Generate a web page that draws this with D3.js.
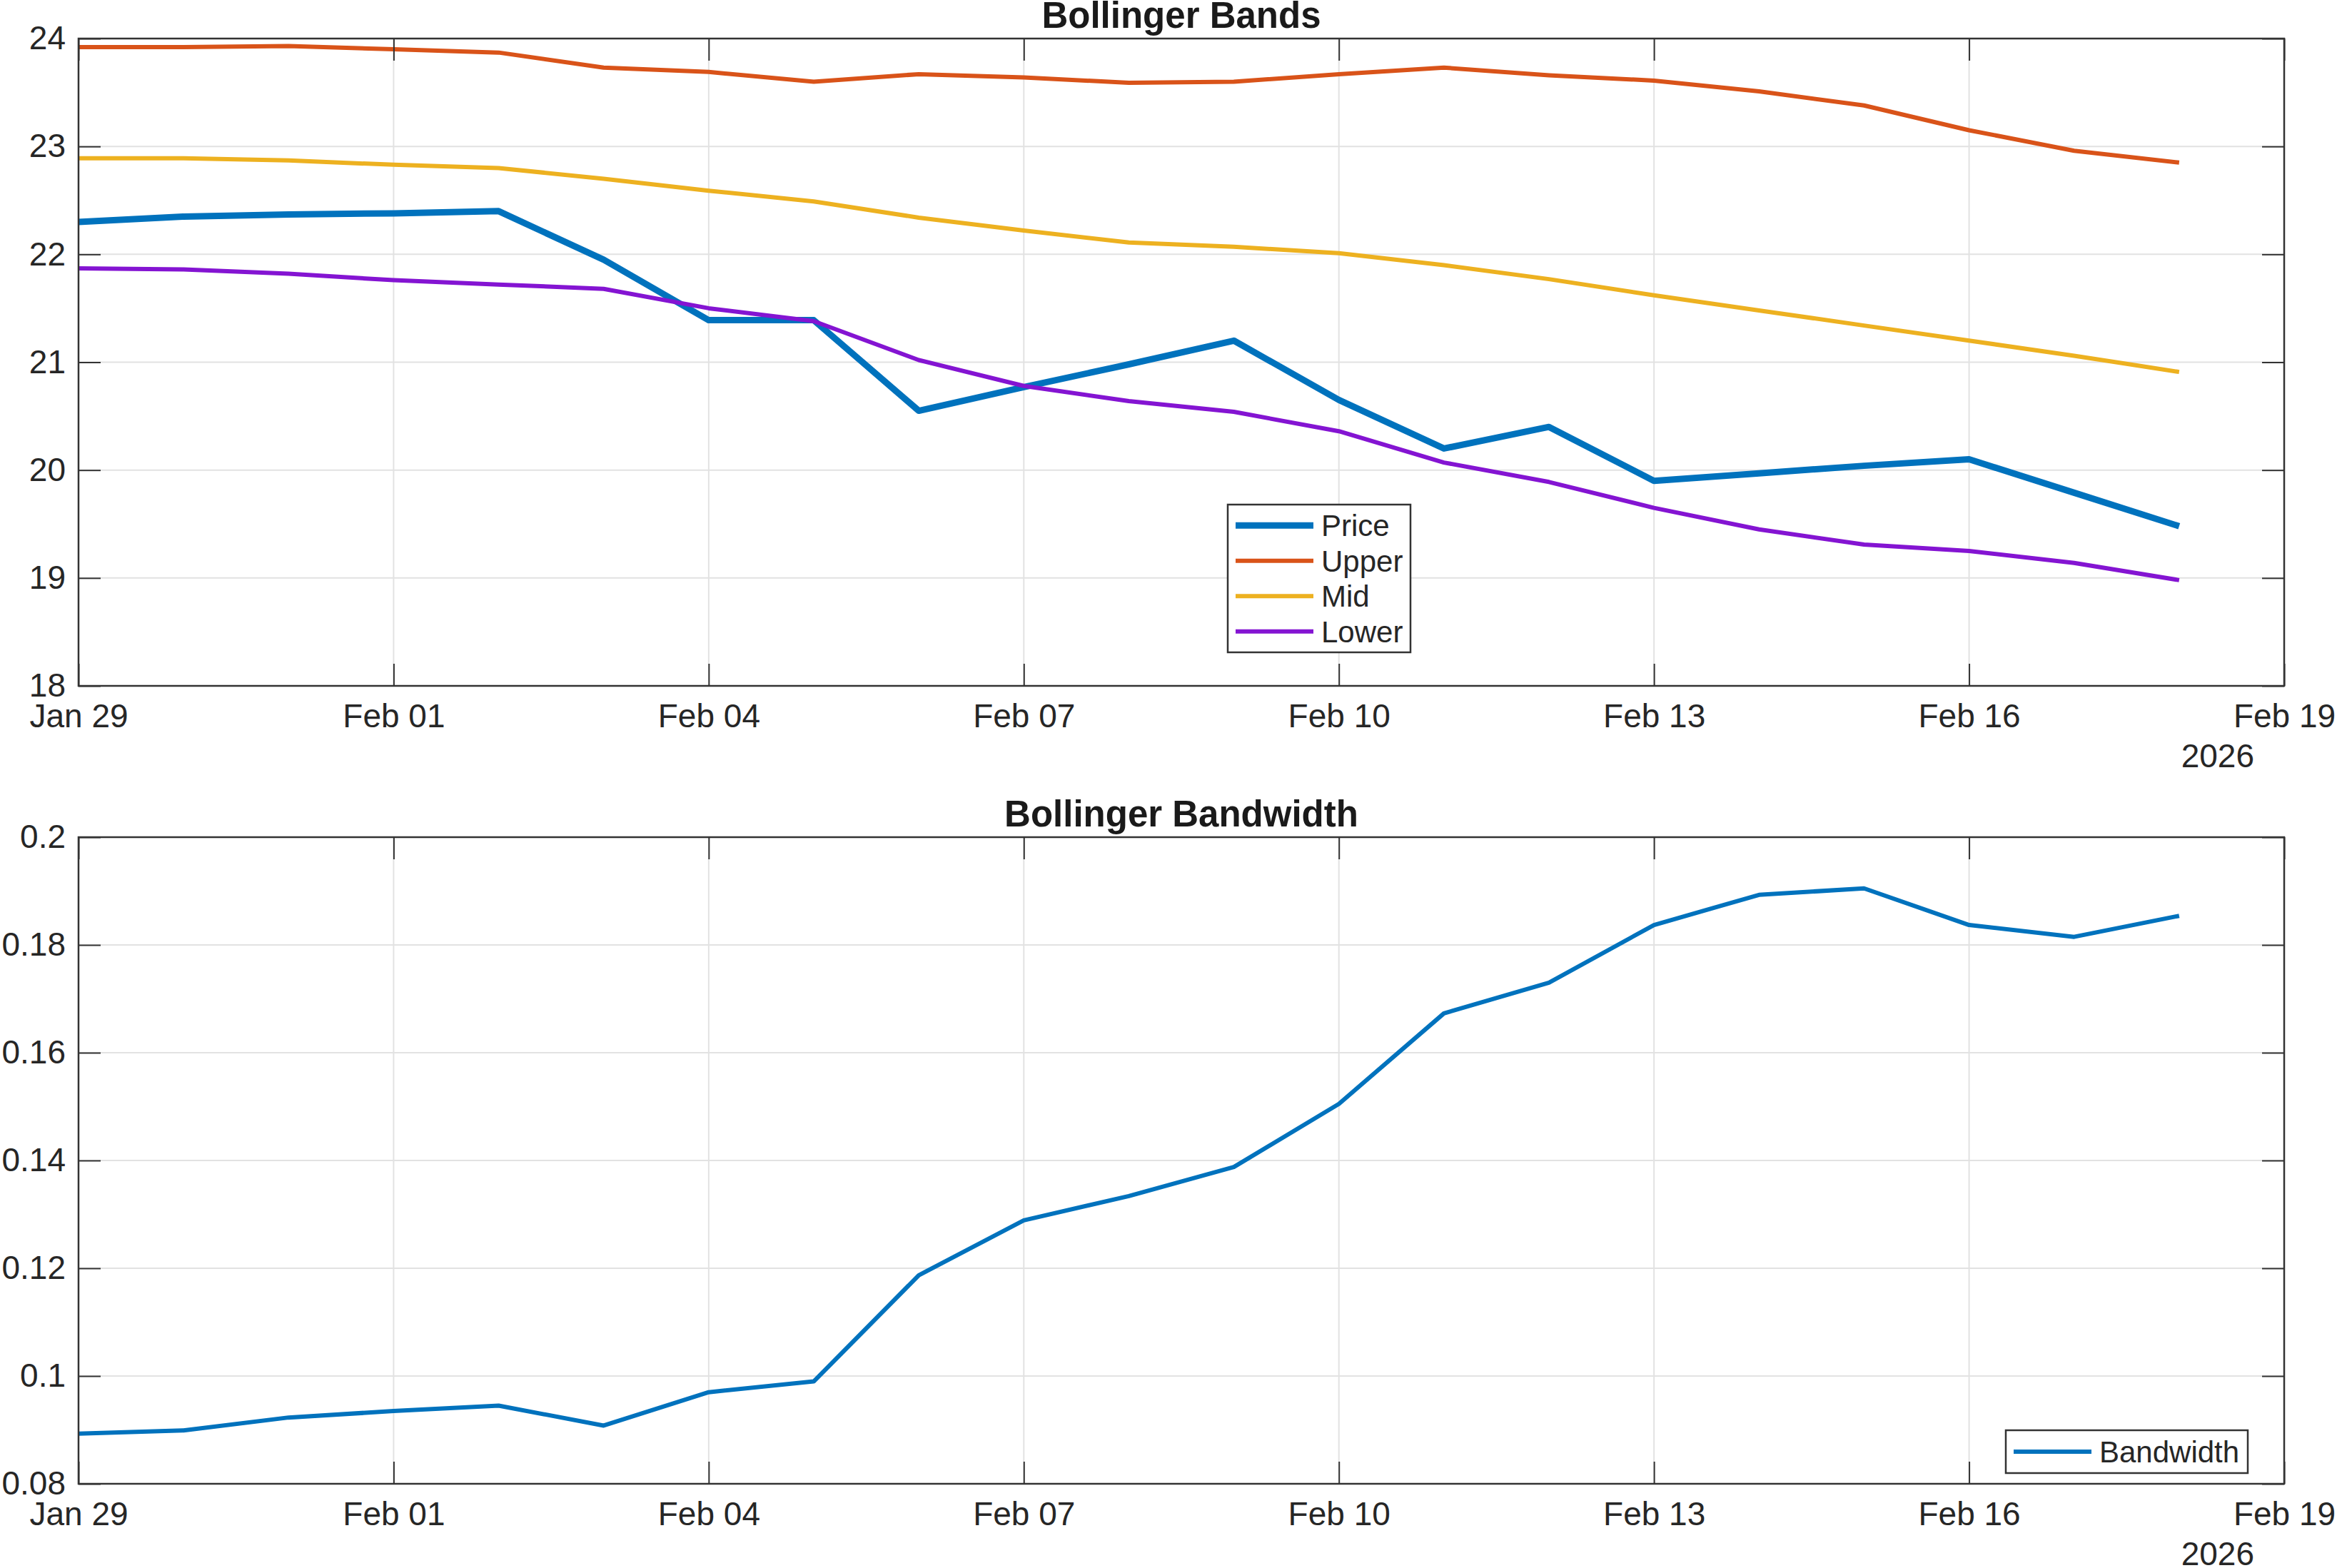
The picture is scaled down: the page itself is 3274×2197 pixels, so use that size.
<!DOCTYPE html>
<html>
<head>
<meta charset="utf-8">
<script src="https://cdn.jsdelivr.net/npm/d3@7"></script>
<style>
  html, body { margin: 0; padding: 0; background: #fff; }
  svg { display: block; }
</style>
</head>
<body>
<div id="chart"></div>
<script>
// daily dates, Jan 29 .. Feb 18 2026
const dates = [
    '2026-01-29', '2026-01-30', '2026-01-31', '2026-02-01', '2026-02-02', '2026-02-03',
    '2026-02-04', '2026-02-05', '2026-02-06', '2026-02-07', '2026-02-08', '2026-02-09',
    '2026-02-10', '2026-02-11', '2026-02-12', '2026-02-13', '2026-02-14', '2026-02-15',
    '2026-02-16', '2026-02-17', '2026-02-18'
];

const price = [22.30, 22.35, 22.37, 22.38, 22.40, 21.95, 21.39, 21.39, 20.55, 20.77, 20.98,
               21.20, 20.65, 20.20, 20.40, 19.90, 19.97, 20.04, 20.10, 19.79, 19.48];
const upper = [23.92, 23.92, 23.93, 23.90, 23.87, 23.73, 23.69, 23.60, 23.67, 23.64, 23.59,
               23.60, 23.67, 23.73, 23.66, 23.61, 23.51, 23.38, 23.15, 22.96, 22.85];
const mid   = [22.89, 22.89, 22.87, 22.83, 22.80, 22.70, 22.59, 22.49, 22.34, 22.22, 22.11,
               22.07, 22.01, 21.90, 21.77, 21.62, 21.48, 21.34, 21.20, 21.06, 20.91];
const lower = [21.87, 21.86, 21.82, 21.76, 21.72, 21.68, 21.50, 21.38, 21.02, 20.78, 20.64,
               20.54, 20.36, 20.07, 19.89, 19.65, 19.45, 19.31, 19.25, 19.14, 18.98];
const bandwidth = [0.0893, 0.0899, 0.0923, 0.0935, 0.0945, 0.0908, 0.0970, 0.0990, 0.1187,
                   0.1289, 0.1334, 0.1388, 0.1505, 0.1673, 0.1730, 0.1837, 0.1893, 0.1905,
                   0.1837, 0.1815, 0.1854];

const xTickDates = ['2026-01-29', '2026-02-01', '2026-02-04', '2026-02-07', '2026-02-10',
                    '2026-02-13', '2026-02-16', '2026-02-19'];
const bandTicks = [18, 19, 20, 21, 22, 23, 24];
const bandTickLabels = ['18', '19', '20', '21', '22', '23', '24'];
const bwTicks = [0.08, 0.10, 0.12, 0.14, 0.16, 0.18, 0.20];
const bwTickLabels = ['0.08', '0.1', '0.12', '0.14', '0.16', '0.18', '0.2'];

const width = 3274;
const height = 2197;
const FONT = '"Liberation Sans", Arial, Helvetica, sans-serif';
const AXIS_COLOR = '#333333';
const TEXT_COLOR = '#262626';

const parse = d3.utcParse('%Y-%m-%d');
const days = dates.map(parse);

const svg = d3.select('#chart')
    .append('svg')
    .attr('width', width)
    .attr('height', height)
    .attr('viewBox', `0 0 ${width} ${height}`)
    .style('font-family', FONT);

const plotLeft = 110, plotRight = 3200;

const x = d3.scaleUtc()
    .domain([parse('2026-01-29'), parse('2026-02-19')])
    .range([plotLeft, plotRight]);

function drawPanel(opts) {
    const { top, bottom, title, yDomain, yTicks, yTickLabels, series, legend } = opts;

    const y = d3.scaleLinear().domain(yDomain).range([bottom, top]);
    const g = svg.append('g');
    const h = bottom - top;

    // grid
    g.append('g').selectAll('line')
        .data(xTickDates.map(parse))
        .join('line')
        .attr('x1', d => x(d)).attr('x2', d => x(d))
        .attr('y1', top).attr('y2', bottom)
        .attr('stroke', '#e2e2e2').attr('stroke-width', 2);

    g.append('g').selectAll('line')
        .data(yTicks)
        .join('line')
        .attr('x1', plotLeft).attr('x2', plotRight)
        .attr('y1', d => y(d)).attr('y2', d => y(d))
        .attr('stroke', '#e2e2e2').attr('stroke-width', 2);

    // lines
    const line = d3.line()
        .x((d, i) => x(days[i]))
        .y(d => y(d));

    series.forEach(s => {
        g.append('path')
            .datum(s.values)
            .attr('d', line)
            .attr('fill', 'none')
            .attr('stroke', s.color)
            .attr('stroke-width', s.width)
            .attr('stroke-linejoin', 'round');
    });

    // axes with inward ticks, mirrored on all four sides
    const tickLen = 31;
    const labelFor = d3.scaleOrdinal().domain(yTicks).range(yTickLabels);

    g.append('g')
        .attr('transform', `translate(0,${bottom})`)
        .call(d3.axisBottom(x)
            .tickValues(xTickDates.map(parse))
            .tickFormat(d3.utcFormat('%b %d'))
            .tickSizeInner(-tickLen)
            .tickSizeOuter(0)
            .tickPadding(25));

    g.append('g')
        .attr('transform', `translate(0,${top})`)
        .call(d3.axisTop(x)
            .tickValues(xTickDates.map(parse))
            .tickFormat('')
            .tickSizeInner(-tickLen)
            .tickSizeOuter(0));

    g.append('g')
        .attr('transform', `translate(${plotLeft},0)`)
        .call(d3.axisLeft(y)
            .tickValues(yTicks)
            .tickFormat(d => labelFor(d))
            .tickSizeInner(-tickLen)
            .tickSizeOuter(0)
            .tickPadding(18));

    g.append('g')
        .attr('transform', `translate(${plotRight},0)`)
        .call(d3.axisRight(y)
            .tickValues(yTicks)
            .tickFormat('')
            .tickSizeInner(-tickLen)
            .tickSizeOuter(0));

    g.selectAll('.domain').remove();
    g.selectAll('.tick line').attr('stroke', AXIS_COLOR).attr('stroke-width', 2);
    g.selectAll('.tick text')
        .attr('fill', TEXT_COLOR)
        .style('font-size', '46px')
        .style('font-family', FONT);

    // box
    g.append('rect')
        .attr('x', plotLeft).attr('y', top)
        .attr('width', plotRight - plotLeft).attr('height', h)
        .attr('fill', 'none')
        .attr('stroke', AXIS_COLOR)
        .attr('stroke-width', 2.5);

    // year label under the date axis
    g.append('text')
        .attr('x', plotRight - 42)
        .attr('y', bottom + 114)
        .attr('text-anchor', 'end')
        .attr('fill', TEXT_COLOR)
        .style('font-size', '46px')
        .text('2026');

    // title
    g.append('text')
        .attr('x', (plotLeft + plotRight) / 2)
        .attr('y', top - 15)
        .attr('text-anchor', 'middle')
        .attr('fill', '#1a1a1a')
        .style('font-size', '51px')
        .style('font-weight', 'bold')
        .text(title);

    // legend
    const lg = g.append('g')
        .attr('transform', `translate(${legend.x},${legend.y})`);

    lg.append('rect')
        .attr('width', legend.w)
        .attr('height', legend.rowH * series.length + legend.pad * 2)
        .attr('fill', '#fff')
        .attr('stroke', AXIS_COLOR)
        .attr('stroke-width', 2.5);

    const rows = lg.selectAll('g.row')
        .data(series)
        .join('g')
        .attr('class', 'row')
        .attr('transform', (d, i) => `translate(0,${legend.pad + legend.rowH * (i + 0.5)})`);

    rows.append('line')
        .attr('x1', 11).attr('x2', 120)
        .attr('stroke', d => d.color)
        .attr('stroke-width', d => d.width);

    rows.append('text')
        .attr('x', 131)
        .attr('dy', '0.36em')
        .attr('fill', TEXT_COLOR)
        .style('font-size', '42px')
        .text(d => d.name);
}

drawPanel({
    top: 54,
    bottom: 961,
    title: 'Bollinger Bands',
    yDomain: [18, 24],
    yTicks: bandTicks,
    yTickLabels: bandTickLabels,
    series: [
        { name: 'Price', values: price, color: '#0072BD', width: 9 },
        { name: 'Upper', values: upper, color: '#D95319', width: 6 },
        { name: 'Mid',   values: mid,   color: '#EDB120', width: 6 },
        { name: 'Lower', values: lower, color: '#8414D2', width: 6 }
    ],
    legend: { x: 1720, y: 707, w: 256, rowH: 49.5, pad: 4.5 }
});

drawPanel({
    top: 1173,
    bottom: 2079,
    title: 'Bollinger Bandwidth',
    yDomain: [0.08, 0.2],
    yTicks: bwTicks,
    yTickLabels: bwTickLabels,
    series: [
        { name: 'Bandwidth', values: bandwidth, color: '#0072BD', width: 6 }
    ],
    legend: { x: 2810, y: 2004, w: 339, rowH: 50, pad: 5 }
});
</script>
</body>
</html>
